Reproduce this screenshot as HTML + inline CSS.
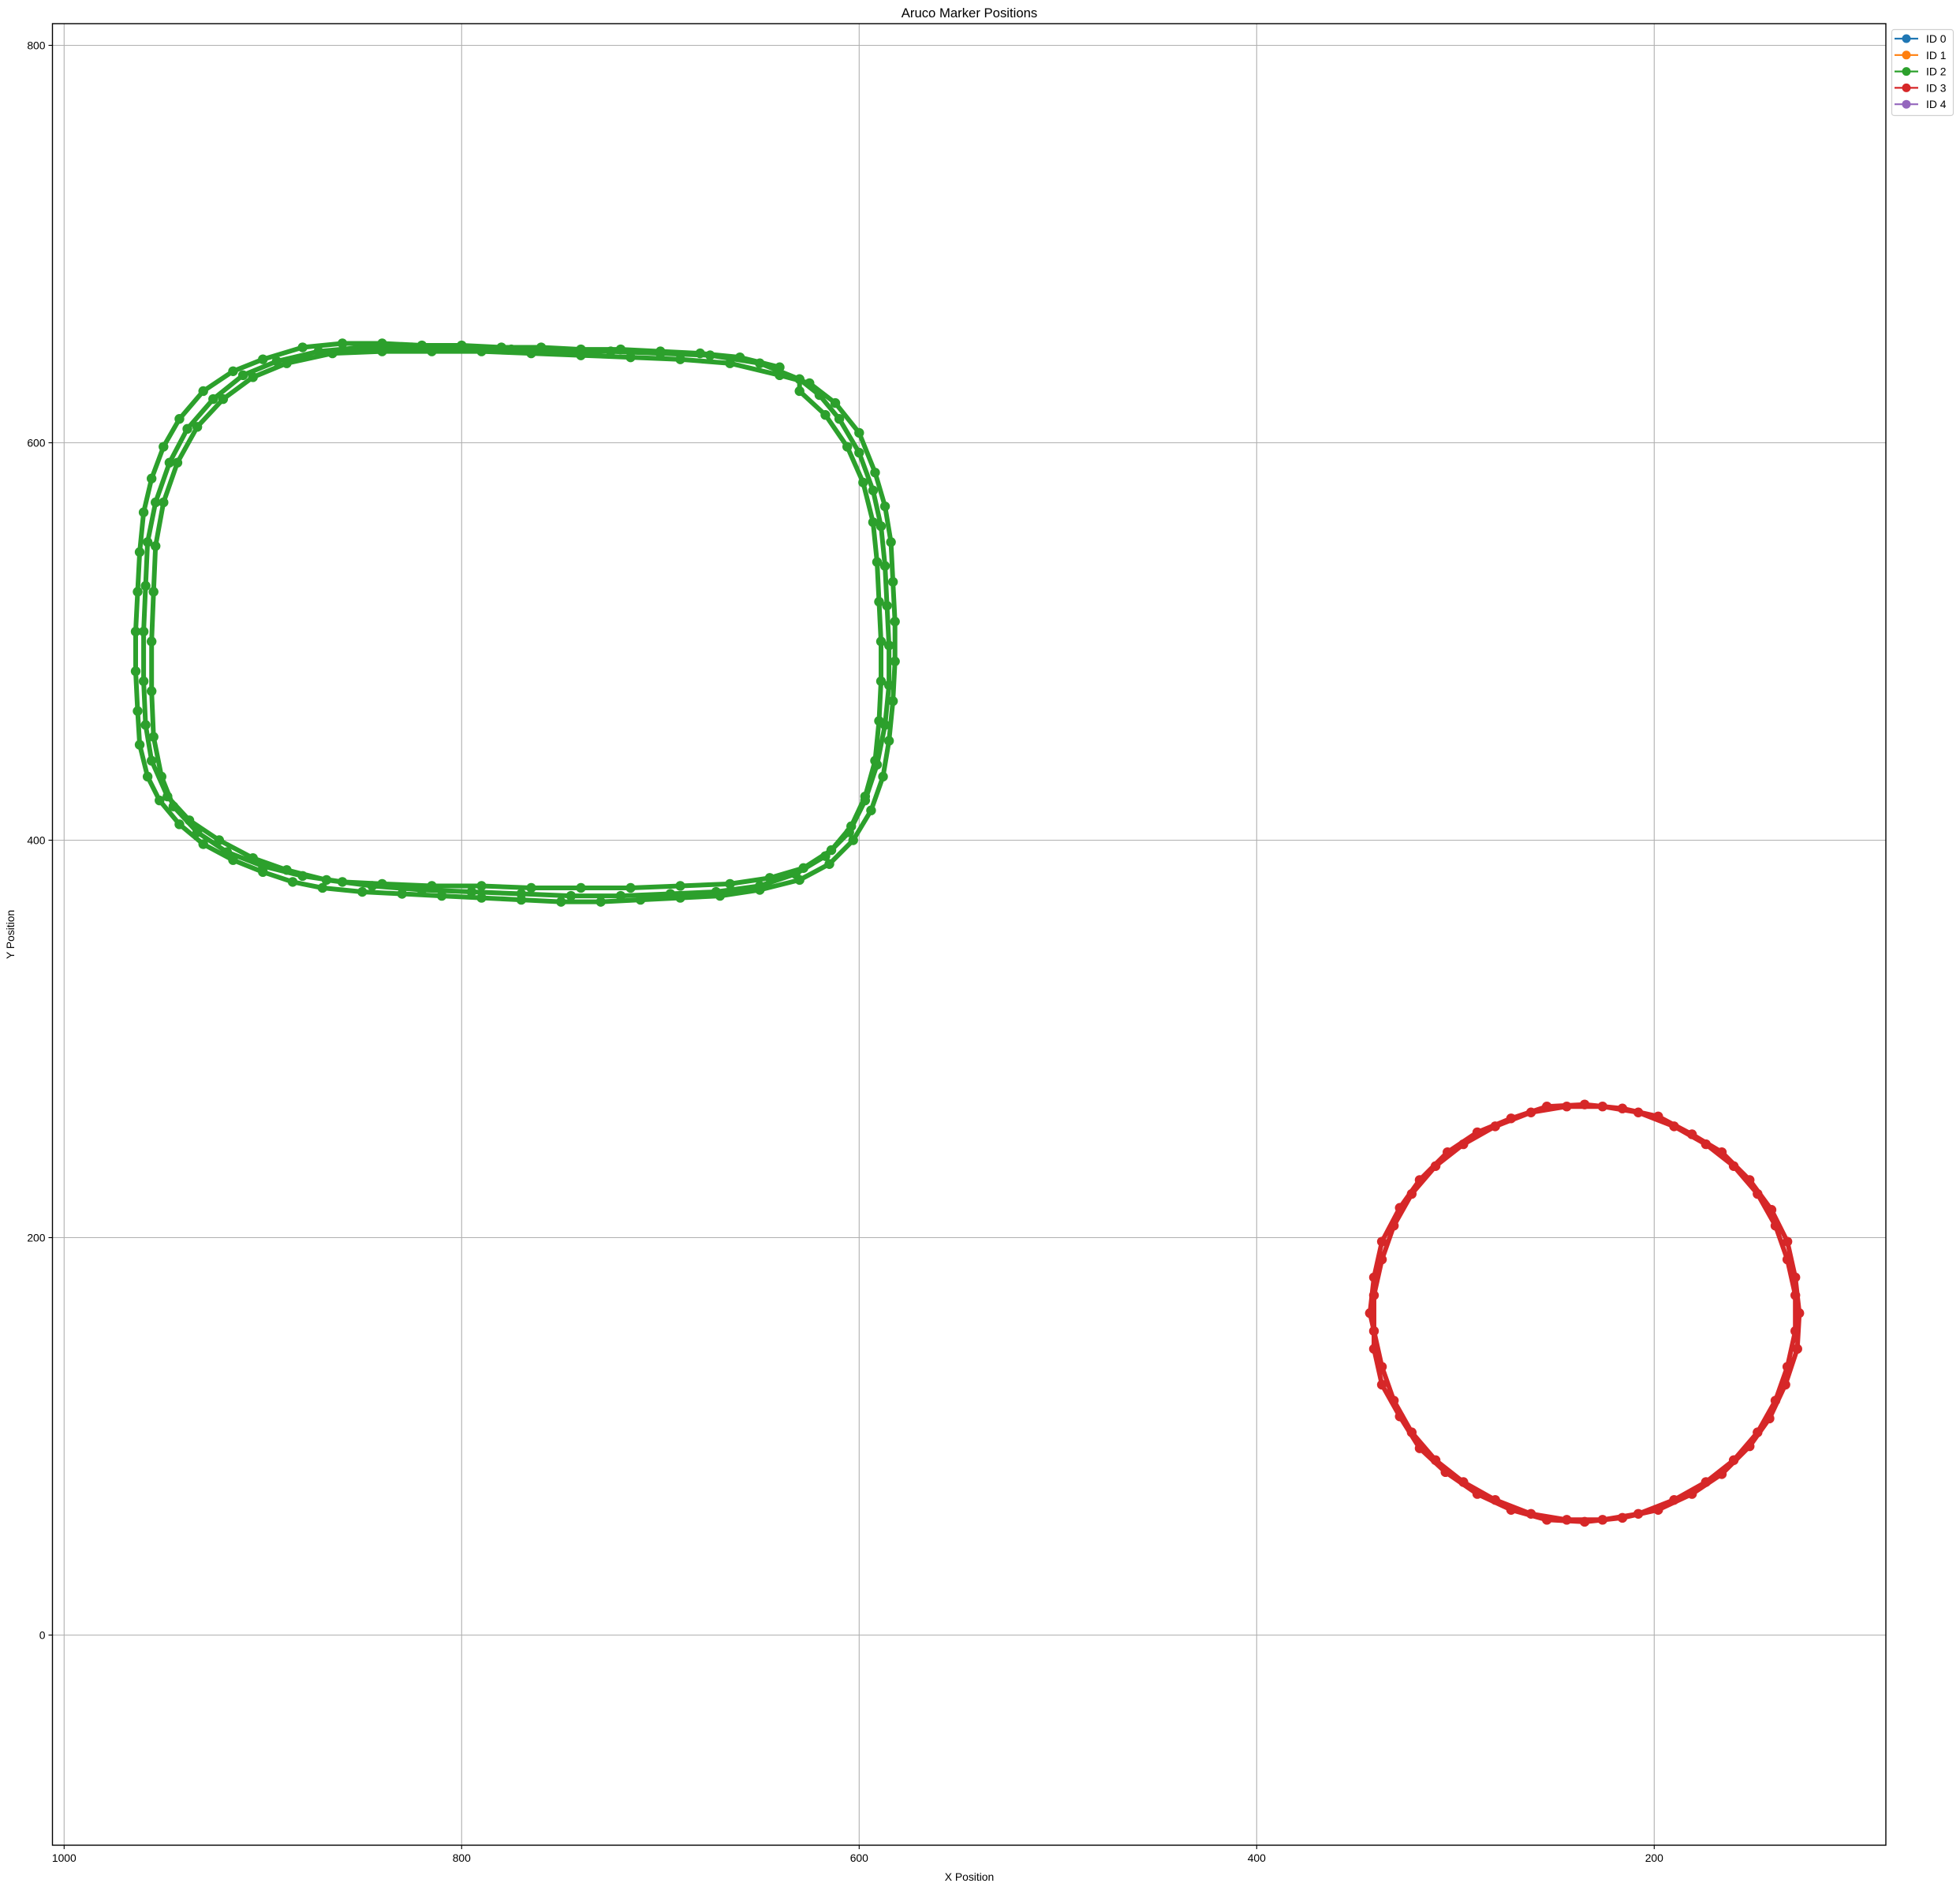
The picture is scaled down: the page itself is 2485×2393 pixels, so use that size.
<!DOCTYPE html>
<html><head><meta charset="utf-8"><style>
html,body{margin:0;padding:0;background:#fff;}
svg{display:block;font-family:"Liberation Sans","DejaVu Sans",sans-serif;}
</style></head><body>
<svg id="chart" width="2485" height="2393" viewBox="0 0 2485 2393" xmlns="http://www.w3.org/2000/svg">
<rect width="2485" height="2393" fill="#fff"/>
<text x="1229" y="22" font-size="16.7" text-anchor="middle" fill="#000">Aruco Marker Positions</text>
<g id="grid"></g>
<g id="series"></g>
<rect x="66.5" y="30" width="2324.5" height="2310" fill="none" stroke="#000" stroke-width="1.4"/>
<g id="ticks"></g>
<text x="1229" y="2385" font-size="13.9" text-anchor="middle">X Position</text>
<text x="18" y="1185" font-size="13.9" text-anchor="middle" transform="rotate(-90 18 1185)">Y Position</text>
<g id="legend"></g>
</svg>
<script>
const xTicks = [1000, 800, 600, 400, 200];
const yTicks = [0, 200, 400, 600, 800];
const seriesLabels = ["ID 0", "ID 1", "ID 2", "ID 3", "ID 4"];
const seriesColors = ["#1f77b4", "#ff7f0e", "#2ca02c", "#d62728", "#9467bd"];
const greenX = [640,660,680,700,720,740,760,780,800,820,840,860,880,900,915,930,942,950,956,960,962,963,964,964,963,962,958,952,942,930,915,900,885,870,850,830,810,790,770,750,730,710,690,670,650,630,615,603,594,588,585,583,582,582,583,584,587,592,600,612,625,
 640,665,690,715,740,765,790,815,840,865,888,905,920,933,943,950,954,955,956,956,955,951,945,933,918,900,880,860,840,815,790,765,740,715,690,665,645,628,614,604,597,592,590,589,589,590,591,593,598,606,617,630,
 630,650,675,700,725,750,775,800,825,850,872,893,910,925,938,947,954,958,959,960,960,959,956,948,937,922,905,888,868,845,820,795,770,745,720,695,672,650,632,617,605,597,591,587,585,585,586,587,589,593,600,610,620,630];
const greenY = [638,643,645,646,647,647,648,648,649,649,650,650,648,642,636,626,612,598,582,565,545,525,505,485,465,448,432,420,408,398,390,384,379,376,374,373,372,371,370,369,369,370,371,372,375,380,388,400,415,432,450,470,490,510,530,550,568,585,605,620,630,
 634,640,642,643,644,645,646,646,646,645,640,633,622,608,590,570,548,525,500,475,452,432,417,404,394,387,382,379,378,377,377,376,376,376,377,378,381,386,395,407,422,440,460,480,500,520,540,560,580,598,614,626,
 632,640,644,645,646,646,647,648,648,648,646,641,634,622,607,590,570,550,528,505,480,458,440,422,410,400,391,385,380,377,375,374,373,372,372,373,374,377,383,392,404,420,438,458,478,498,518,538,558,576,595,612,624,632];
const redX = [343,341,337,328,318,304,289,272,254,235,216,198,181,166,152,141,133,129,127,128,134,142,152,166,181,198,216,235,254,272,289,305,318,328,337,341,
 341,337,331,322,310,296,280,262,244,226,208,190,174,160,148,139,133,129,129,133,139,148,160,174,190,208,226,244,262,280,296,310,322,331,337,341,343];
const redY = [162,180,198,215,229,243,253,260,266,267,265,261,252,243,229,214,198,180,162,144,126,109,95,81,71,63,59,57,58,63,71,82,94,110,126,144,
 171,189,206,222,236,247,256,263,266,266,263,256,247,236,222,206,189,171,153,135,118,102,88,77,68,61,58,58,61,68,77,88,102,118,135,153,162];

const NS = "http://www.w3.org/2000/svg";
const L = 66.5, R = 2391, T = 30, B = 2340;
function sx(v){ return 81.3 + (1000 - v) * 2.52; }
function sy(v){ return 2073.5 - v * 2.52; }
function mk(tag, attrs, parent){ const e = document.createElementNS(NS, tag); for (const k in attrs) e.setAttribute(k, attrs[k]); parent.appendChild(e); return e; }

const grid = document.getElementById('grid');
const ticks = document.getElementById('ticks');
xTicks.forEach(v => {
  const x = sx(v);
  const g = mk('line', {x1:x, x2:x, y1:T, y2:B, stroke:'#b0b0b0', 'stroke-width':1.1}, grid);
  
  
  mk('line', {x1:x, x2:x, y1:B, y2:B+5, stroke:'#000', 'stroke-width':1.1}, ticks);
  const t = mk('text', {x:x, y:B+21, 'font-size':13.9, 'text-anchor':'middle'}, ticks);
  t.textContent = v;
  
  
});
yTicks.forEach(v => {
  const y = sy(v);
  const g = mk('line', {x1:L, x2:R, y1:y, y2:y, stroke:'#b0b0b0', 'stroke-width':1.1}, grid);
  
  
  mk('line', {x1:L-5, x2:L, y1:y, y2:y, stroke:'#000', 'stroke-width':1.1}, ticks);
  const t = mk('text', {x:L-9, y:y+5, 'font-size':13.9, 'text-anchor':'end'}, ticks);
  t.textContent = v;
  
  
});

const series = document.getElementById('series');
function drawSeries(xs, ys, color, name){
  const g = mk('g', {}, series);
  
  
  const pts = xs.map((x,i) => sx(x).toFixed(1) + ',' + sy(ys[i]).toFixed(1)).join(' ');
  const pl = mk('polyline', {points:pts, fill:'none', stroke:color, 'stroke-width':6, 'stroke-linejoin':'round'}, g);
  
  
  xs.forEach((x,i) => {
    const c = mk('circle', {cx:sx(x), cy:sy(ys[i]), r:6.2, fill:color}, g);
    
    
  });
}
drawSeries(greenX, greenY, seriesColors[2], 'series-id-2');
drawSeries(redX, redY, seriesColors[3], 'series-id-3');

const lg = document.getElementById('legend');
const box = mk('rect', {x:2398.5, y:37.5, width:78, height:109, rx:3, fill:'#fff', stroke:'#d0d0d0', 'stroke-width':1.2}, lg);


seriesLabels.forEach((lab, i) => {
  const y = 49 + i * 20.8;
  const g = mk('g', {}, lg);
  
  
  mk('line', {x1:2402, x2:2432, y1:y, y2:y, stroke:seriesColors[i], 'stroke-width':2.2}, g);
  mk('circle', {cx:2417, cy:y, r:5.5, fill:seriesColors[i]}, g);
  const t = mk('text', {x:2442, y:y+5, 'font-size':13.9}, g);
  t.textContent = lab;
});
</script>
</body></html>
